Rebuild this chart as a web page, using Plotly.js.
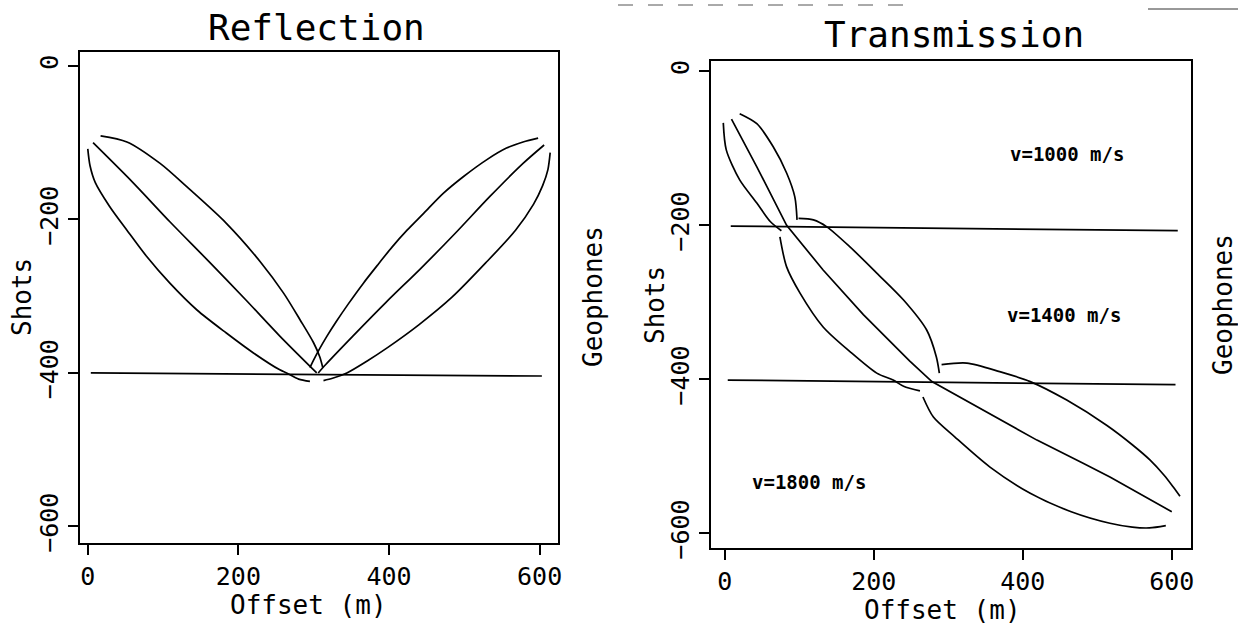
<!DOCTYPE html>
<html>
<head>
<meta charset="utf-8">
<script src="https://cdn.plot.ly/plotly-3.0.1.min.js"></script>
<style>html,body{margin:0;padding:0;background:#fff;}#chart{width:1238px;height:624px;}</style>
</head>
<body>
<div id="chart"></div>
<script>
// ---------- Reflection panel data (offset m, shot depth) ----------
const reflA_x = [0, 3, 10, 29, 52, 78, 109, 145, 184, 220, 255, 264, 280, 295];
const reflA_y = [-108, -130, -152, -183, -214, -248, -283, -318, -348, -374, -396, -400, -408, -411];
const reflB_x = [7, 60, 109, 160, 210, 255, 304];
const reflB_y = [-100, -152, -203, -254, -305, -352, -400];
const reflC_x = [17, 52, 96, 131, 184, 229, 260, 282, 300, 308, 312];
const reflC_y = [-91, -99, -127, -157, -205, -255, -296, -331, -361, -379, -393];
const reflCp_x = [598, 578, 556, 530, 499, 472, 446, 424, 404, 386, 366, 346, 330, 317, 307, 300, 295];
const reflCp_y = [-94, -99, -107, -122, -144, -166, -192, -214, -236, -258, -283, -310, -333, -353, -370, -383, -393];
const reflBp_x = [606, 578, 534, 488, 442, 396, 352, 316, 306];
const reflBp_y = [-103, -127, -170, -218, -264, -308, -352, -389, -400];
const reflAp_x = [614, 611, 604, 592, 568, 528, 484, 440, 398, 370, 344, 325, 313];
const reflAp_y = [-113, -135, -156, -180, -214, -257, -301, -337, -367, -385, -400, -407, -410];
const reflLine_x = [4, 603];
const reflLine_y = [-400, -404];

// ---------- Transmission panel data ----------
const trT1a_x = [-2, 2, 20, 43, 61, 76];
const trT1a_y = [-67, -102, -141, -171, -195, -207];
const trT1b_x = [74, 83, 101, 132, 168, 204, 226, 240, 262];
const trT1b_y = [-215, -254, -288, -332, -364, -392, -401, -409, -415];
const trT1c_x = [266, 280, 309, 356, 410, 465, 517, 547, 570, 592];
const trT1c_y = [-423, -449, -475, -514, -548, -572, -587, -592, -593, -590];
const trT2_x = [9, 43, 83, 132, 186, 248, 278, 347, 419, 481, 517, 600];
const trT2_y = [-62, -124, -200, -258, -316, -376, -403, -440, -479, -509, -527, -572];
const trT3a_x = [20, 43, 65, 83, 94, 97];
const trT3a_y = [-55, -68, -98, -132, -163, -193];
const trT3b_x = [99, 119, 137, 168, 204, 240, 271, 284, 288];
const trT3b_y = [-191, -193, -202, -228, -262, -297, -336, -371, -392];
const trT3c_x = [291, 325, 369, 410, 459, 513, 547, 571, 590, 602, 611];
const trT3c_y = [-381, -379, -390, -403, -427, -460, -485, -505, -525, -540, -552];
const trLine1_x = [8, 608];
const trLine1_y = [-201, -207];
const trLine2_x = [4, 605];
const trLine2_y = [-401, -407];

// velocity labels
const velText = ['v=1000 m/s', 'v=1400 m/s', 'v=1800 m/s'];
const velX = [459, 455, 113];
const velY = [-107, -317, -533];

// ticks
const xTicks = [0, 200, 400, 600];
const yTicks = [0, -200, -400, -600];
const yTickText = ['0', '\u2212200', '\u2212400', '\u2212600'];

const MONO = 'DejaVu Sans Mono, monospace';
const curveLine = {color: '#000', width: 1.7, shape: 'spline', smoothing: 0.8};
const straight = {color: '#000', width: 1.7};

function tr(x, y, line, ax) {
  return {x: x, y: y, mode: 'lines', line: line, xaxis: ax[0], yaxis: ax[1], hoverinfo: 'skip', showlegend: false};
}
const L = ['x', 'y'], R = ['x2', 'y2'];
const data = [
  tr(reflA_x, reflA_y, curveLine, L),
  tr(reflB_x, reflB_y, curveLine, L),
  tr(reflC_x, reflC_y, curveLine, L),
  tr(reflCp_x, reflCp_y, curveLine, L),
  tr(reflBp_x, reflBp_y, curveLine, L),
  tr(reflAp_x, reflAp_y, curveLine, L),
  tr(reflLine_x, reflLine_y, straight, L),
  tr(trT1a_x, trT1a_y, curveLine, R),
  tr(trT1b_x, trT1b_y, curveLine, R),
  tr(trT1c_x, trT1c_y, curveLine, R),
  tr(trT2_x, trT2_y, straight, R),
  tr(trT3a_x, trT3a_y, curveLine, R),
  tr(trT3b_x, trT3b_y, curveLine, R),
  tr(trT3c_x, trT3c_y, curveLine, R),
  tr(trLine1_x, trLine1_y, straight, R),
  tr(trLine2_x, trLine2_y, straight, R)
];

function xax(domain, range, anchor) {
  return {domain: domain, range: range, anchor: anchor, tickvals: xTicks, ticktext: xTicks.map(String),
    ticks: 'outside', ticklen: 10, tickwidth: 2, tickcolor: '#000', showline: true, mirror: true,
    linewidth: 2, linecolor: '#000', showgrid: false, zeroline: false,
    tickfont: {family: MONO, size: 25, color: '#000'}, fixedrange: true};
}
function yax(domain, range, anchor) {
  return {domain: domain, range: range, anchor: anchor, tickvals: yTicks, ticktext: yTickText,
    tickangle: -90, ticks: 'outside', ticklen: 10, tickwidth: 2, tickcolor: '#000', showline: true, mirror: true,
    linewidth: 2, linecolor: '#000', showgrid: false, zeroline: false,
    tickfont: {family: MONO, size: 25, color: '#000'}, fixedrange: true};
}

function ann(text, x, y, size, angle) {
  return {text: text, x: x, y: y, xref: 'paper', yref: 'paper', showarrow: false,
    xanchor: 'center', yanchor: 'middle', textangle: angle || 0,
    font: {family: MONO, size: size, color: '#000'}};
}

const annotations = [
  ann('Reflection', 316/1238, 1-28/624, 36),
  ann('Transmission', 954/1238, 1-34/624, 36),
  ann('Offset (m)', 308/1238, 1-605/624, 26),
  ann('Offset (m)', 942/1238, 1-610/624, 26),
  ann('Shots', 22/1238, 1-297/624, 26, -90),
  ann('Shots', 655/1238, 1-305/624, 26, -90),
  ann('Geophones', 593/1238, 1-297/624, 26, -90),
  ann('Geophones', 1223/1238, 1-305/624, 26, -90)
];
for (let i = 0; i < velText.length; i++) {
  annotations.push({text: '<b>' + velText[i] + '</b>', x: velX[i], y: velY[i], xref: 'x2', yref: 'y2',
    showarrow: false, xanchor: 'center', yanchor: 'middle',
    font: {family: MONO, size: 19, color: '#000'}});
}

const layout = {
  width: 1238, height: 624,
  margin: {l: 0, r: 0, t: 0, b: 0, pad: 0},
  paper_bgcolor: '#fff', plot_bgcolor: '#fff',
  showlegend: false,
  xaxis: xax([79.5/1238, 558/1238], [-11, 624.4], 'y'),
  yaxis: yax([1-543.3/624, 1-51.7/624], [-622, 18.6], 'x'),
  xaxis2: xax([711/1238, 1191/1238], [-18.5, 625.8], 'y2'),
  yaxis2: yax([1-548.3/624, 1-60.7/624], [-619.5, 13.8], 'x2'),
  annotations: annotations,
  shapes: [
    {type: 'line', xref: 'paper', yref: 'paper', x0: 618/1238, x1: 905/1238, y0: 1-5/624, y1: 1-5/624,
     line: {color: '#555', width: 1, dash: 'longdash'}},
    {type: 'line', xref: 'paper', yref: 'paper', x0: 1148/1238, x1: 1, y0: 1-9/624, y1: 1-9/624,
     line: {color: '#333', width: 1}}
  ]
};

Plotly.newPlot('chart', data, layout, {displayModeBar: false, staticPlot: true});
</script>
</body>
</html>
